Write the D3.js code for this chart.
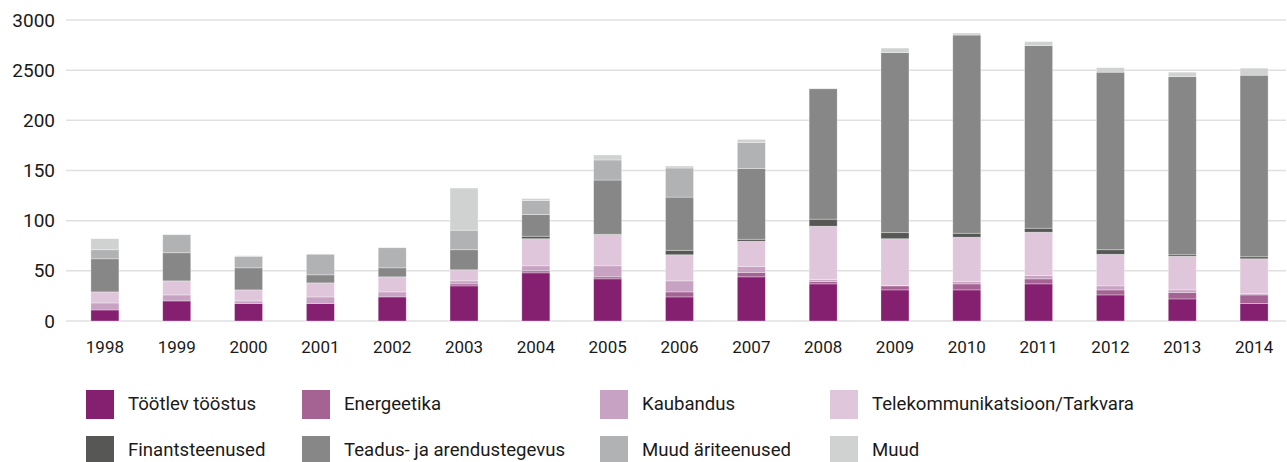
<!DOCTYPE html>
<html>
<head>
<meta charset="utf-8">
<script src="https://cdn.jsdelivr.net/npm/d3@7"></script>
<style>
  html, body { margin: 0; padding: 0; background: #fff; }
  svg { display: block; font-family: Roboto, "Noto Sans", sans-serif; }
</style>
</head>
<body>
<svg id="chart" width="1287" height="462"></svg>
<script>
// Years on the x axis
const years = ["1998","1999","2000","2001","2002","2003","2004","2005","2006","2007","2008","2009","2010","2011","2012","2013","2014"];

// Sector names (stack order, bottom to top)
const sectors = ["Töötlev tööstus","Energeetika","Kaubandus","Telekommunikatsioon/Tarkvara",
                 "Finantsteenused","Teadus- ja arendustegevus","Muud äriteenused","Muud"];

// Values per sector, one per year
const tootlevToostus   = [11, 20, 17.5, 17.5, 24, 35, 48, 42, 24, 44, 37, 31, 31, 37, 26, 22, 17.5];
const energeetika      = [0, 0, 0, 0, 0, 2, 2, 2, 5, 4.5, 2.5, 4, 6, 5, 5, 6.5, 8.5];
const kaubandus        = [7, 6, 2.5, 6.5, 5, 3, 5, 11, 11, 6, 2, 0.5, 2.5, 3.5, 4, 2.5, 1.5];
const telekomTarkvara  = [11, 14, 11, 14, 15, 11, 27, 31, 26, 25, 53, 46.5, 44, 43, 31.5, 33.5, 34.5];
const finantsteenused  = [0, 0, 0, 0, 0, 0, 2.5, 0.5, 4.5, 2, 7, 6, 4, 4, 4.5, 1.5, 2];
const teadusArendus    = [33, 28, 22, 8, 9, 20, 21.5, 54, 53, 70.5, 130, 179.5, 197.5, 182, 177, 177.5, 181];
const muudAriteenused  = [9, 18, 11.5, 20.5, 20, 19.5, 14, 20, 29, 26, 0, 0, 0, 0, 0, 0, 0];
const muud             = [11, 0.5, 0.5, 0, 0, 42, 2, 5, 2, 3, 0.5, 4.5, 2, 4, 4.5, 4.5, 7];

// Tick values and their printed labels
const yTickValues = [0, 50, 100, 150, 200, 250, 300];
const yTickLabels = ["0", "50", "100", "150", "200", "2500", "3000"];

const colors = ["#84206F", "#A56394", "#C8A2C3", "#DFC6DB", "#575756", "#878787", "#B1B2B3", "#D0D2D1"];

const seriesValues = [tootlevToostus, energeetika, kaubandus, telekomTarkvara,
                      finantsteenused, teadusArendus, muudAriteenused, muud];

const rows = years.map((y, i) => {
  const r = { year: y };
  sectors.forEach((s, k) => { r[s] = seriesValues[k][i]; });
  return r;
});

const svg = d3.select("#chart");

const x = d3.scaleBand().domain(years).range([69, 1290]).paddingInner(0.61).paddingOuter(0.305);
const y = d3.scaleLinear().domain([0, 300]).range([321, 20]);

// Gridlines
svg.append("g")
  .selectAll("line")
  .data(yTickValues)
  .join("line")
  .attr("x1", 66).attr("x2", 1286)
  .attr("y1", d => y(d)).attr("y2", d => y(d))
  .attr("stroke", "#e0e0e0")
  .attr("stroke-width", 1.5);

// Y axis labels
const yAxis = d3.axisLeft(y).tickValues(yTickValues)
  .tickFormat((d, i) => yTickLabels[i]).tickSize(0).tickPadding(0);
const gy = svg.append("g").attr("transform", "translate(55,0)").call(yAxis);
gy.select(".domain").remove();
gy.selectAll("text")
  .attr("font-family", "Roboto, sans-serif")
  .attr("font-size", 19)
  .attr("fill", "#1a1a1a");

// Stacked bars
const stack = d3.stack().keys(sectors);
const layers = stack(rows);

svg.append("g")
  .selectAll("g")
  .data(layers)
  .join("g")
  .attr("fill", (d, i) => colors[i])
  .selectAll("rect")
  .data(d => d)
  .join("rect")
  .attr("x", d => x(d.data.year))
  .attr("width", x.bandwidth())
  .attr("y", d => y(d[1]))
  .attr("height", d => Math.max(0, y(d[0]) - y(d[1])))
  .attr("stroke", "rgba(255,255,255,0.45)")
  .attr("stroke-width", 0.7);

// X axis labels
const xAxis = d3.axisBottom(x).tickSize(0).tickPadding(0);
const gx = svg.append("g").attr("transform", "translate(0,340)").call(xAxis);
gx.select(".domain").remove();
gx.selectAll("text")
  .attr("font-family", "Roboto, sans-serif")
  .attr("font-size", 17)
  .attr("fill", "#1a1a1a")
  .attr("dy", "0.75em");

// Legend
const legendCols = [86, 302, 600, 830];
const legendRows = [390, 436];
const legend = svg.append("g")
  .selectAll("g")
  .data(sectors)
  .join("g")
  .attr("transform", (d, i) => `translate(${legendCols[i % 4]},${legendRows[Math.floor(i / 4)]})`);

legend.append("rect")
  .attr("width", 28).attr("height", 29)
  .attr("fill", (d, i) => colors[i]);

legend.append("text")
  .attr("x", 42).attr("y", 20)
  .attr("font-family", "Roboto, sans-serif")
  .attr("font-size", 18.6)
  .attr("fill", "#1a1a1a")
  .text(d => d);
</script>
</body>
</html>
